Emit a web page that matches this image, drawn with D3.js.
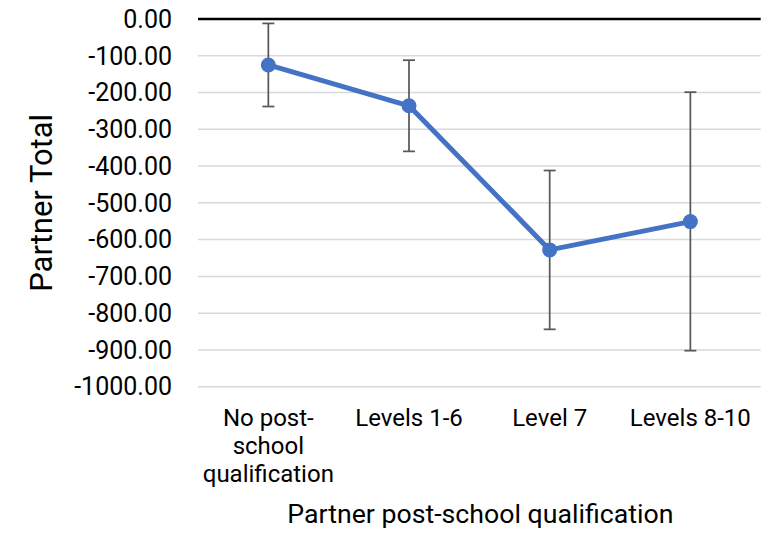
<!DOCTYPE html>
<html>
<head>
<meta charset="utf-8">
<script src="https://cdn.jsdelivr.net/npm/d3@7"></script>
<style>
  body { margin: 0; background: #fff; }
  svg { display: block; font-family: Roboto, "Noto Sans", sans-serif; }
</style>
</head>
<body>
<div id="chart"></div>
<script>
// data
const categories = [["No post-", "school", "qualification"], ["Levels 1-6"], ["Level 7"], ["Levels 8-10"]];
const means = [-125, -236, -628, -551];
const errLow = [-238, -360, -844, -902];
const errHigh = [-12, -112, -412, -199];
const yTicks = [0, -100, -200, -300, -400, -500, -600, -700, -800, -900, -1000];

const width = 769, height = 533;
const margin = {top: 19, right: 8, bottom: 146, left: 198};

const svg = d3.select("#chart").append("svg")
    .attr("width", width)
    .attr("height", height);

const x = d3.scaleBand()
    .domain(d3.range(categories.length))
    .range([margin.left, 760.7]);

const y = d3.scaleLinear()
    .domain([-1000, 0])
    .range([386.7, margin.top]);

// gridlines
svg.append("g")
    .selectAll("line")
    .data(yTicks.filter(d => d !== 0))
    .join("line")
    .attr("x1", x.range()[0])
    .attr("x2", x.range()[1])
    .attr("y1", d => y(d))
    .attr("y2", d => y(d))
    .attr("stroke", "#d9d9d9")
    .attr("stroke-width", 1.5);

// y tick labels
svg.append("g")
    .attr("font-size", 25)
    .attr("fill", "#000")
    .attr("text-anchor", "end")
    .selectAll("text")
    .data(yTicks)
    .join("text")
    .attr("x", 172)
    .attr("y", d => y(d))
    .attr("dy", "0.35em")
    .text(d => d3.format(".2f")(d).replace("−", "-"));

// zero line
svg.append("line")
    .attr("x1", x.range()[0])
    .attr("x2", x.range()[1])
    .attr("y1", y(0))
    .attr("y2", y(0))
    .attr("stroke", "#000")
    .attr("stroke-width", 2.5);

const cx = i => x(i) + x.bandwidth() / 2;

// error bars
const eb = svg.append("g")
    .attr("stroke", "#595959")
    .attr("stroke-width", 1.75)
    .selectAll("g")
    .data(d3.range(means.length))
    .join("g");
eb.append("line")
    .attr("x1", cx).attr("x2", cx)
    .attr("y1", i => y(errHigh[i]))
    .attr("y2", i => y(errLow[i]));
eb.append("line")
    .attr("x1", i => cx(i) - 6).attr("x2", i => cx(i) + 6)
    .attr("y1", i => y(errHigh[i])).attr("y2", i => y(errHigh[i]));
eb.append("line")
    .attr("x1", i => cx(i) - 6).attr("x2", i => cx(i) + 6)
    .attr("y1", i => y(errLow[i])).attr("y2", i => y(errLow[i]));

// line + markers
const line = d3.line()
    .x((d, i) => cx(i))
    .y(d => y(d));

svg.append("path")
    .datum(means)
    .attr("fill", "none")
    .attr("stroke", "#4472C4")
    .attr("stroke-width", 5)
    .attr("stroke-linejoin", "round")
    .attr("d", line);

svg.append("g")
    .selectAll("circle")
    .data(means)
    .join("circle")
    .attr("cx", (d, i) => cx(i))
    .attr("cy", d => y(d))
    .attr("r", 7.5)
    .attr("fill", "#4472C4");

// category labels
svg.append("g")
    .attr("font-size", 24)
    .attr("fill", "#000")
    .attr("text-anchor", "middle")
    .selectAll("text")
    .data(categories)
    .join("text")
    .attr("x", (d, i) => cx(i))
    .attr("y", 426)
    .selectAll("tspan")
    .data(d => d)
    .join("tspan")
    .attr("x", function() { return this.parentNode.getAttribute("x"); })
    .attr("dy", (d, i) => i === 0 ? 0 : 28)
    .text(d => d);

// axis titles
svg.append("text")
    .attr("x", (x.range()[0] + x.range()[1]) / 2 + 1)
    .attr("y", 523)
    .attr("text-anchor", "middle")
    .attr("font-size", 26.7)
    .text("Partner post-school qualification");

svg.append("text")
    .attr("transform", `translate(52,${(y.range()[0] + y.range()[1]) / 2}) rotate(-90)`)
    .attr("text-anchor", "middle")
    .attr("font-size", 31)
    .text("Partner Total");
</script>
</body>
</html>
